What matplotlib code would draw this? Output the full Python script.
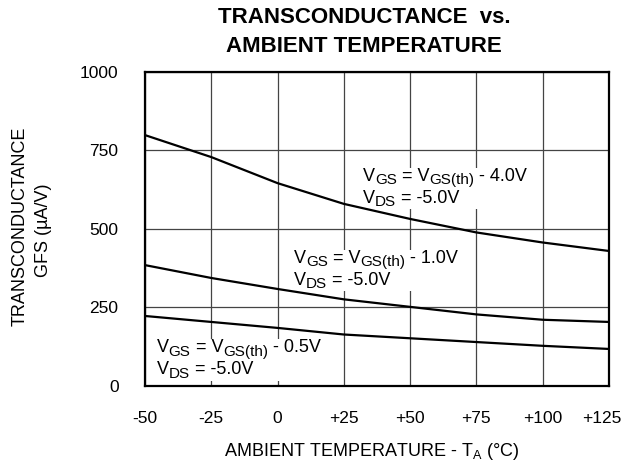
import matplotlib.pyplot as plt
from matplotlib.patches import Rectangle
from matplotlib.transforms import offset_copy, Bbox, ScaledTranslation

plt.rcParams['font.family'] = ['Liberation Sans', 'DejaVu Sans']
plt.rcParams['mathtext.fontset'] = 'custom'
plt.rcParams['mathtext.rm'] = 'Liberation Sans'

temps = [-50, -25, 0, 25, 50, 75, 100, 125]
gfs_4v0 = [799, 729, 646, 580, 532, 489, 457, 430]
gfs_1v0 = [385, 344, 309, 276, 252, 228, 211, 204]
gfs_0v5 = [223, 204, 185, 164, 152, 140, 128, 118]

x_ticklabels = ["-50", "-25", "0", "+25", "+50", "+75", "+100", "+125"]
y_ticks = [0, 250, 500, 750, 1000]

# label anchors (left edge, baseline of first line) and the VGS offset
labels = [(32.2, 653, "4.0V"), (6.2, 392, "1.0V"), (-45.6, 108, "0.5V")]

FS = 13
SUB = 11
TICK = 12.5

fig = plt.figure(figsize=(6.26, 4.68), dpi=100)
ax = fig.add_axes([0.2316, 0.1752, 0.7412, 0.6710])

for series in (gfs_4v0, gfs_1v0, gfs_0v5):
    ax.plot(temps, series, color="black", linewidth=1.6, zorder=3)

ax.set_xlim(-50, 125)
ax.set_ylim(0, 1000)
ax.set_xticks(temps)
ax.set_xticklabels(x_ticklabels)
ax.set_yticks(y_ticks)
ax.tick_params(length=0, labelsize=TICK)
ax.tick_params(axis="x", pad=18)
ax.tick_params(axis="y", pad=19)
ax.grid(True, color="#444444", linewidth=0.9)
ax.set_axisbelow(True)
for s in ax.spines.values():
    s.set_linewidth(1.6)
    s.set_zorder(4)

# keep "+125" inside the figure
last = ax.get_xticklabels()[-1]
last.set_transform(last.get_transform() + ScaledTranslation(-5 / 72, 0, fig.dpi_scale_trans))

renderer = fig.canvas.get_renderer()


def text_width(s, size):
    a = fig.text(0, 0, "|" + s + "|", fontsize=size)
    b = fig.text(0, 0, "||", fontsize=size)
    w = a.get_window_extent(renderer).width - b.get_window_extent(renderer).width
    a.remove()
    b.remove()
    return w


def draw_runs(x, y, runs, dy):
    # runs: list of (text, is_subscript); returns pixel extents
    dx = 0.0
    boxes = []
    for s, sub in runs:
        size = SUB if sub else FS
        off = dy - (3.5 if sub else 0)
        tr = offset_copy(ax.transData, fig=fig, x=dx, y=off, units="dots")
        t = ax.text(x, y, s, fontsize=size, transform=tr, va="baseline",
                    ha="left", zorder=2.5)
        boxes.append(t.get_window_extent(renderer))
        dx += text_width(s, size)
    return boxes


for x, y, dv in labels:
    line1 = [("V", False), ("GS", True), (" = V", False), ("GS(th)", True),
             (" - " + dv, False)]
    line2 = [("V", False), ("DS", True), (" = -5.0V", False)]
    boxes = draw_runs(x, y, line1, 0) + draw_runs(x, y, line2, -22)
    bb = Bbox.union(boxes).expanded(1.0, 1.0)
    (x0, y0), (x1, y1) = ax.transData.inverted().transform(bb.get_points())
    ax.add_patch(Rectangle((x0, y0), x1 - x0, y1 - y0, facecolor="white",
                           edgecolor="none", zorder=1.5))

fig.text(0.582, 1 - 23 / 468, "TRANSCONDUCTANCE  vs.", ha="center",
         va="baseline", fontsize=16, fontweight="bold")
fig.text(0.582, 1 - 52 / 468, "AMBIENT TEMPERATURE", ha="center",
         va="baseline", fontsize=16, fontweight="bold")
fig.text(20 / 626, 1 - 226 / 468, "TRANSCONDUCTANCE", rotation=90,
         ha="center", va="center", fontsize=FS)
fig.text(43 / 626, 1 - 230 / 468, "GFS (µA/V)", rotation=90,
         ha="center", va="center", fontsize=FS)
fig.text(372 / 626, 1 - 451 / 468,
         r"AMBIENT TEMPERATURE - T$_{\mathregular{A}}$ (°C)",
         ha="center", va="center", fontsize=FS)

fig.savefig("out.png", dpi=100)
